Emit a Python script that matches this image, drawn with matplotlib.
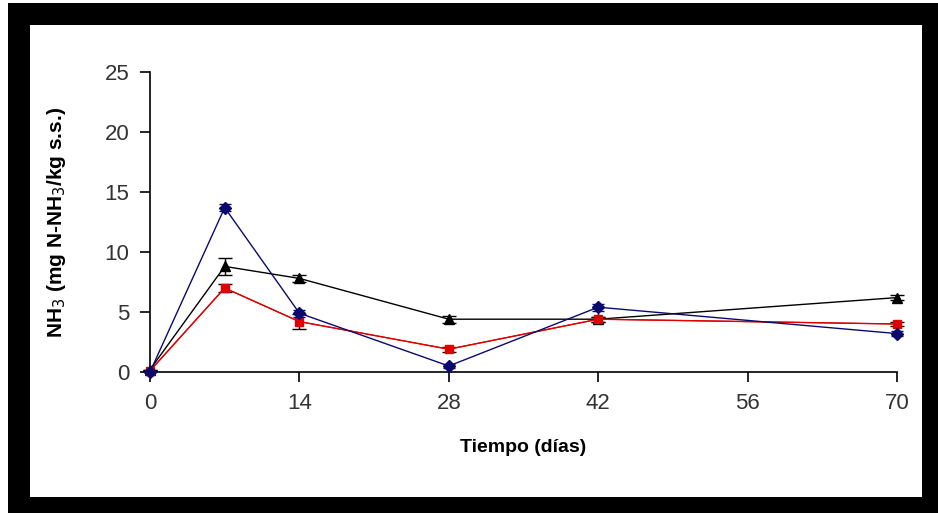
import matplotlib.pyplot as plt
from matplotlib.patches import Rectangle

# datos
dias = [0, 7, 14, 28, 42, 70]
nh3_azul = [0.0, 13.7, 4.9, 0.5, 5.4, 3.2]
err_azul = [0.0, 0.3, 0.3, 0.2, 0.3, 0.2]
nh3_negro = [0.2, 8.8, 7.8, 4.4, 4.4, 6.2]
err_negro = [0.0, 0.7, 0.3, 0.3, 0.2, 0.2]
nh3_rojo = [0.1, 7.0, 4.2, 1.9, 4.4, 4.0]
err_rojo = [0.0, 0.3, 0.6, 0.2, 0.2, 0.2]

xticks = [0, 14, 28, 42, 56, 70]
yticks = [0, 5, 10, 15, 20, 25]

W, H = 938, 513
fig = plt.figure(figsize=(W / 100, H / 100), dpi=100, facecolor='white')

# marco negro y fondo blanco
fig.patches.append(Rectangle((8 / W, 0), 1 - 8 / W, 1 - 3 / H, transform=fig.transFigure,
                             facecolor='black', edgecolor='none', zorder=-2))
fig.patches.append(Rectangle((30 / W, 16 / H), (922 - 30) / W, (488 - 16) / H,
                             transform=fig.transFigure, facecolor='white',
                             edgecolor='none', zorder=-1))

ax = fig.add_axes([150 / W, 141 / H, (897 - 150) / W, (372 - 72) / H])
ax.set_zorder(1)
ax.set_facecolor('none')

tick_font = ['Liberation Sans Narrow', 'Liberation Sans', 'DejaVu Sans']

ax.errorbar(dias, nh3_negro, yerr=err_negro, color='black', marker='^', markersize=7,
            linewidth=1, capsize=5, elinewidth=1, clip_on=False, zorder=3)
ax.errorbar(dias, nh3_rojo, yerr=err_rojo, color='#e00000', marker='s', markersize=6,
            linewidth=1, capsize=5, elinewidth=1, ecolor='black', clip_on=False, zorder=3)
ax.plot(dias, nh3_rojo, color='#c00000', linewidth=0.8, zorder=3)
ax.errorbar(dias, nh3_azul, yerr=err_azul, color='#0a0a6e', marker='D', markersize=6,
            linewidth=1, capsize=4, elinewidth=1, clip_on=False, zorder=4)

ax.set_xlim(0, 70)
ax.set_ylim(0, 25)
ax.set_xticks(xticks)
ax.set_yticks(yticks)

for s in ['top', 'right']:
    ax.spines[s].set_visible(False)
for s in ['left', 'bottom']:
    ax.spines[s].set_linewidth(1.2)

ax.tick_params(direction='out', length=7, width=1.2, pad=8)
for lab in ax.get_xticklabels() + ax.get_yticklabels():
    lab.set_family(tick_font)
    lab.set_fontsize(16)
    lab.set_color('#333333')

ax.set_xlabel('Tiempo (días)', fontsize=14, fontweight='bold', family=tick_font, labelpad=18)
ax.set_ylabel('NH$_3$ (mg N-NH$_3$/kg s.s.)', fontsize=15, fontweight='bold',
              family=['Liberation Sans', 'DejaVu Sans'], labelpad=26)

fig.savefig('out.png', dpi=100, facecolor=fig.get_facecolor())
